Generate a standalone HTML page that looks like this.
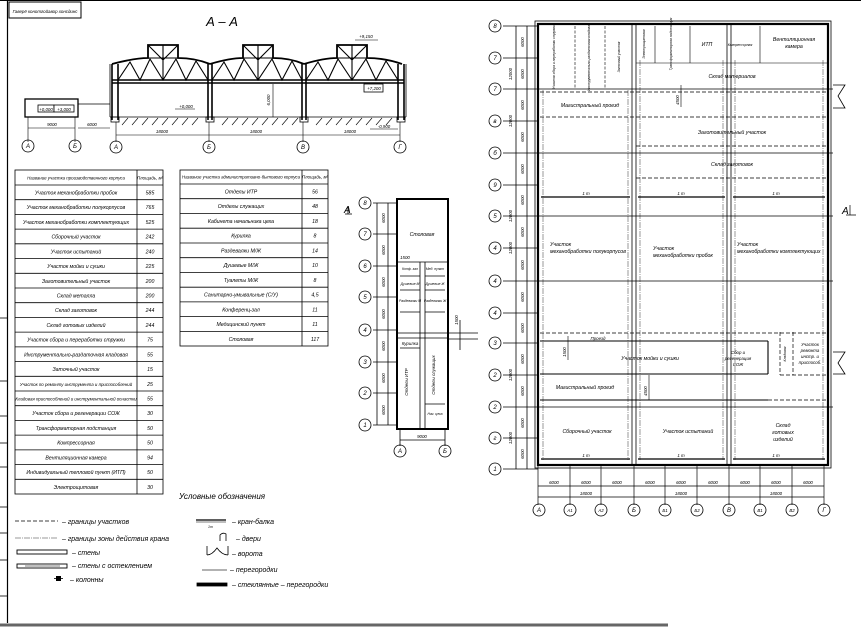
<!DOCTYPE html>
<html><head><meta charset="utf-8"><style>
html,body{margin:0;padding:0;background:#fff;}
svg{display:block;font-family:"Liberation Sans","DejaVu Sans",sans-serif;font-style:italic;}
.t{font-size:5.2px;text-anchor:middle;}
.s{font-size:4.4px;text-anchor:middle;}
.v{font-size:3.4px;text-anchor:middle;}
.c{font-size:6px;text-anchor:middle;}
</style></head><body>
<svg width="861" height="629" viewBox="0 0 861 629" xmlns="http://www.w3.org/2000/svg" stroke="#000" fill="none" stroke-width="0.8">
<!-- frame -->
<line x1="0" y1="0.5" x2="861" y2="0.5" stroke-width="1"/>
<line x1="7.5" y1="0" x2="7.5" y2="623" stroke-width="1.2"/>
<line x1="0" y1="625" x2="668" y2="625" stroke="#666" stroke-width="3"/>
<g stroke-width="0.8"><line x1="0" y1="318" x2="7" y2="318"/><line x1="0" y1="381" x2="7" y2="381"/><line x1="0" y1="416" x2="7" y2="416"/><line x1="0" y1="443" x2="7" y2="443"/><line x1="0" y1="467" x2="7" y2="467"/><line x1="0" y1="507" x2="7" y2="507"/><line x1="0" y1="533" x2="7" y2="533"/><line x1="0" y1="560" x2="7" y2="560"/><line x1="0" y1="596" x2="7" y2="596"/></g>
<rect x="9" y="2" width="72" height="16" stroke-width="1"/>
<text x="45" y="13" class="s" fill="#000" stroke="none">Гаверё конотгойавор хонсдинс</text>

<!-- SECTION A-A -->
<text x="222" y="26" font-size="13" text-anchor="middle" fill="#000" stroke="none">А – А</text>
<rect x="25" y="99" width="53" height="18" stroke-width="1.3"/>
<rect x="38" y="105" width="16" height="7" fill="#fff"/><text x="46" y="111" class="s" fill="#000" stroke="none">+0,000</text>
<rect x="54" y="105" width="20" height="7" fill="#fff"/><text x="64" y="111" class="s" fill="#000" stroke="none">+3,000</text>
<line x1="78" y1="104" x2="110" y2="104"/>
<g stroke-width="1.6">
<line x1="112" y1="64" x2="112" y2="120"/><line x1="118" y1="64" x2="118" y2="120"/>
<line x1="208" y1="64" x2="208" y2="120"/><line x1="212" y1="64" x2="212" y2="120"/>
<line x1="302" y1="64" x2="302" y2="120"/><line x1="306" y1="64" x2="306" y2="120"/>
<line x1="398" y1="64" x2="398" y2="120"/><line x1="404" y1="64" x2="404" y2="120"/>
</g>
<line x1="110" y1="64" x2="110" y2="117"/><line x1="406" y1="64" x2="406" y2="117"/>
<g stroke-width="1.4">
<line x1="112" y1="80" x2="404" y2="80"/><line x1="112" y1="83" x2="404" y2="83"/>
</g>
<g stroke-width="1.8">
<path d="M112 64 Q135 58 148 58 L148 45 L178 45 L178 58 Q195 58 210 64"/>
<path d="M210 64 Q230 58 243 58 L243 45 L273 45 L273 58 Q290 58 304 64"/>
<path d="M304 64 Q324 58 337 58 L337 45 L367 45 L367 58 Q385 58 402 64"/>
</g>
<g stroke-width="1.1">
<path d="M118 80 L130 62 L140 80 L150 59 L163 80 L176 59 L186 80 L196 61 L208 80"/>
<path d="M148 45 L163 60 L178 45 M163 45 L163 80 M148 58 L178 58"/>
<path d="M212 80 L224 62 L234 80 L244 59 L258 80 L272 59 L282 80 L292 61 L302 80"/>
<path d="M243 45 L258 60 L273 45 M258 45 L258 80 M243 58 L273 58"/>
<path d="M306 80 L318 62 L328 80 L338 59 L352 80 L366 59 L376 80 L386 61 L398 80"/>
<path d="M337 45 L352 60 L367 45 M352 45 L352 80 M337 58 L367 58"/>
</g>
<line x1="110" y1="117" x2="406" y2="117"/>
<g stroke-width="0.6">
<path d="M122 125 l6 -7 M132 125 l6 -7 M142 125 l6 -7 M152 125 l6 -7 M162 125 l6 -7 M172 125 l6 -7 M182 125 l6 -7 M192 125 l6 -7 M222 125 l6 -7 M232 125 l6 -7 M242 125 l6 -7 M252 125 l6 -7 M262 125 l6 -7 M272 125 l6 -7 M282 125 l6 -7 M292 125 l6 -7 M316 125 l6 -7 M326 125 l6 -7 M336 125 l6 -7 M346 125 l6 -7 M356 125 l6 -7 M366 125 l6 -7 M376 125 l6 -7 M386 125 l6 -7"/>
</g>
<rect x="111" y="117" width="8" height="5"/><rect x="206" y="117" width="8" height="5"/><rect x="300" y="117" width="8" height="5"/><rect x="397" y="117" width="8" height="5"/>
<line x1="273" y1="84" x2="273" y2="117" stroke-width="0.6"/>
<text x="270" y="100" class="s" fill="#000" stroke="none" transform="rotate(-90 270 100)">6,000</text>
<line x1="175" y1="109" x2="195" y2="109" stroke-width="0.6"/><text x="186" y="108" class="s" fill="#000" stroke="none">+0,000</text>
<rect x="364" y="84" width="19" height="8" fill="#fff"/><text x="374" y="90" class="s" fill="#000" stroke="none">+7,200</text>
<line x1="355" y1="40" x2="378" y2="40" stroke-width="0.6"/><text x="366" y="38" class="s" fill="#000" stroke="none">+9,150</text>
<line x1="370" y1="129" x2="398" y2="129" stroke-width="0.6"/><text x="384" y="128" class="s" fill="#000" stroke="none">-0,900</text>
<g stroke-width="0.6">
<line x1="28" y1="117" x2="28" y2="142"/><line x1="75" y1="117" x2="75" y2="142"/>
<line x1="28" y1="128" x2="75" y2="128"/><line x1="78" y1="128" x2="110" y2="128"/>
<line x1="116" y1="122" x2="116" y2="142"/><line x1="209" y1="122" x2="209" y2="142"/><line x1="303" y1="122" x2="303" y2="142"/><line x1="400" y1="122" x2="400" y2="142"/>
<line x1="116" y1="135" x2="400" y2="135"/>
</g>
<g fill="#000" stroke="none">
<text x="52" y="126" class="s">9000</text><text x="92" y="126" class="s">6000</text>
<text x="162" y="133" class="s">18000</text><text x="256" y="133" class="s">18000</text><text x="350" y="133" class="s">18000</text>
</g>
<g stroke-width="0.8">
<circle cx="28" cy="146" r="6"/><circle cx="75" cy="146" r="6"/><circle cx="116" cy="147" r="6"/><circle cx="209" cy="147" r="6"/><circle cx="303" cy="147" r="6"/><circle cx="400" cy="147" r="6"/>
</g>
<g fill="#000" stroke="none">
<text x="28" y="148" class="c">А</text><text x="75" y="148" class="c">Б</text><text x="116" y="149" class="c">А</text><text x="209" y="149" class="c">Б</text><text x="303" y="149" class="c">В</text><text x="400" y="149" class="c">Г</text>
</g>

<!-- LEFT TABLE -->
<g stroke-width="0.8">
<rect x="15" y="170" width="148" height="324"/>
<line x1="137" y1="170" x2="137" y2="494"/>
<line x1="15" y1="185" x2="163" y2="185"/>
<line x1="15" y1="199.7" x2="163" y2="199.7"/><line x1="15" y1="214.4" x2="163" y2="214.4"/><line x1="15" y1="229.1" x2="163" y2="229.1"/><line x1="15" y1="243.8" x2="163" y2="243.8"/><line x1="15" y1="258.6" x2="163" y2="258.6"/><line x1="15" y1="273.3" x2="163" y2="273.3"/><line x1="15" y1="288" x2="163" y2="288"/><line x1="15" y1="302.7" x2="163" y2="302.7"/><line x1="15" y1="317.4" x2="163" y2="317.4"/><line x1="15" y1="332.1" x2="163" y2="332.1"/><line x1="15" y1="346.9" x2="163" y2="346.9"/><line x1="15" y1="361.6" x2="163" y2="361.6"/><line x1="15" y1="376.3" x2="163" y2="376.3"/><line x1="15" y1="391" x2="163" y2="391"/><line x1="15" y1="405.7" x2="163" y2="405.7"/><line x1="15" y1="420.4" x2="163" y2="420.4"/><line x1="15" y1="435.1" x2="163" y2="435.1"/><line x1="15" y1="449.9" x2="163" y2="449.9"/><line x1="15" y1="464.6" x2="163" y2="464.6"/><line x1="15" y1="479.3" x2="163" y2="479.3"/>
</g>
<g fill="#000" stroke="none">
<text x="76" y="179.5" class="s" font-size="4">Название участка производственного корпуса</text><text x="150" y="179.5" class="s">Площадь, м²</text>
<text x="76" y="194.5" class="t">Участок механобработки пробок</text><text x="150" y="194.5" class="t">585</text>
<text x="76" y="209.2" class="t">Участок механобработки полукорпусов</text><text x="150" y="209.2" class="t">765</text>
<text x="76" y="223.9" class="t">Участок механобработки комплектующих</text><text x="150" y="223.9" class="t">525</text>
<text x="76" y="238.6" class="t">Сборочный участок</text><text x="150" y="238.6" class="t">242</text>
<text x="76" y="253.3" class="t">Участок испытаний</text><text x="150" y="253.3" class="t">240</text>
<text x="76" y="268.1" class="t">Участок мойки и сушки</text><text x="150" y="268.1" class="t">225</text>
<text x="76" y="282.8" class="t">Заготовительный участок</text><text x="150" y="282.8" class="t">200</text>
<text x="76" y="297.5" class="t">Склад металла</text><text x="150" y="297.5" class="t">200</text>
<text x="76" y="312.2" class="t">Склад заготовок</text><text x="150" y="312.2" class="t">244</text>
<text x="76" y="326.9" class="t">Склад готовых изделий</text><text x="150" y="326.9" class="t">244</text>
<text x="76" y="341.6" class="t">Участок сбора и переработки стружки</text><text x="150" y="341.6" class="t">75</text>
<text x="76" y="356.4" class="t">Инструментально-раздаточная кладовая</text><text x="150" y="356.4" class="t">55</text>
<text x="76" y="371.1" class="t">Заточный участок</text><text x="150" y="371.1" class="t">15</text>
<text x="76" y="385.8" class="s">Участок по ремонту инструмента и приспособлений</text><text x="150" y="385.8" class="t">25</text>
<text x="76" y="400.5" class="s">Кладовая приспособлений и инструментальной оснастки</text><text x="150" y="400.5" class="t">55</text>
<text x="76" y="415.2" class="t">Участок сбора и регенерации СОЖ</text><text x="150" y="415.2" class="t">30</text>
<text x="76" y="429.9" class="t">Трансформаторная подстанция</text><text x="150" y="429.9" class="t">50</text>
<text x="76" y="444.6" class="t">Компрессорная</text><text x="150" y="444.6" class="t">50</text>
<text x="76" y="459.4" class="t">Вентиляционная камера</text><text x="150" y="459.4" class="t">94</text>
<text x="76" y="474.1" class="t">Индивидуальный тепловой пункт (ИТП)</text><text x="150" y="474.1" class="t">50</text>
<text x="76" y="488.8" class="t">Электрощитовая</text><text x="150" y="488.8" class="t">30</text>
</g>

<!-- RIGHT TABLE -->
<g stroke-width="0.8">
<rect x="180" y="170" width="148" height="176"/>
<line x1="302" y1="170" x2="302" y2="346"/>
<line x1="180" y1="184" x2="328" y2="184"/>
<line x1="180" y1="198.7" x2="328" y2="198.7"/><line x1="180" y1="213.5" x2="328" y2="213.5"/><line x1="180" y1="228.2" x2="328" y2="228.2"/><line x1="180" y1="243" x2="328" y2="243"/><line x1="180" y1="257.7" x2="328" y2="257.7"/><line x1="180" y1="272.4" x2="328" y2="272.4"/><line x1="180" y1="287.2" x2="328" y2="287.2"/><line x1="180" y1="301.9" x2="328" y2="301.9"/><line x1="180" y1="316.6" x2="328" y2="316.6"/><line x1="180" y1="331.4" x2="328" y2="331.4"/>
</g>
<g fill="#000" stroke="none">
<text x="241" y="178.5" class="s" font-size="3.8">Название участка административно-бытового корпуса</text><text x="315" y="178.5" class="s">Площадь, м²</text>
<text x="241" y="193.5" class="t">Отделы ИТР</text><text x="315" y="193.5" class="t">56</text>
<text x="241" y="208" class="t">Отделы служащих</text><text x="315" y="208" class="t">48</text>
<text x="241" y="223" class="t">Кабинета начальника цеха</text><text x="315" y="223" class="t">18</text>
<text x="241" y="237.5" class="t">Курилка</text><text x="315" y="237.5" class="t">8</text>
<text x="241" y="252.5" class="t">Раздевалки М/Ж</text><text x="315" y="252.5" class="t">14</text>
<text x="241" y="267" class="t">Душевые М/Ж</text><text x="315" y="267" class="t">10</text>
<text x="241" y="282" class="t">Туалеты М/Ж</text><text x="315" y="282" class="t">8</text>
<text x="241" y="296.5" class="t">Санитарно-умывальные (С/У)</text><text x="315" y="296.5" class="t">4,5</text>
<text x="241" y="311.5" class="t">Конференц-зал</text><text x="315" y="311.5" class="t">11</text>
<text x="241" y="326" class="t">Медицинский пункт</text><text x="315" y="326" class="t">11</text>
<text x="241" y="341" class="t">Столовая</text><text x="315" y="341" class="t">117</text>
</g>

<!-- LEGEND -->
<g fill="#000" stroke="none">
<text x="222" y="499" font-size="8" text-anchor="middle">Условные обозначения</text>
<text x="62" y="524" font-size="7">– границы участков</text>
<text x="62" y="541" font-size="7">– границы зоны действия крана</text>
<text x="72" y="555" font-size="7">– стены</text>
<text x="72" y="568" font-size="7">– стены с остеклением</text>
<text x="70" y="582" font-size="7">– колонны</text>
<text x="232" y="524" font-size="7">– кран-балка</text>
<text x="236" y="541" font-size="7">– двери</text>
<text x="232" y="556" font-size="7">– ворота</text>
<text x="230" y="572" font-size="7">– перегородки</text>
<text x="232" y="587" font-size="7">– стеклянные – перегородки</text>
<text x="208" y="528" font-size="3.5">1т</text>
</g>
<line x1="15" y1="521" x2="58" y2="521" stroke-dasharray="4 2"/>
<line x1="15" y1="538" x2="58" y2="538" stroke="#777" stroke-dasharray="6 1 1 1"/>
<rect x="17" y="550" width="50" height="4" stroke-width="0.9"/>
<rect x="17" y="564" width="50" height="4" stroke-width="0.9"/><line x1="25" y1="566" x2="60" y2="566" stroke-width="0.5"/>
<rect x="56" y="576" width="5" height="5" fill="#000" stroke="none"/><line x1="54" y1="578.5" x2="63" y2="578.5"/>
<line x1="196" y1="520" x2="226" y2="520" stroke-width="1.3"/><line x1="196" y1="522" x2="226" y2="522" stroke-width="0.6"/>
<path d="M220 541 L220 535 Q223 532 226 534 L226 541"/>
<path d="M207 555 L207 546 M228 555 L228 546 M207 555 Q212 555 217 548 Q222 555 228 555"/>
<line x1="202" y1="570" x2="227" y2="570" stroke="#666" stroke-width="1"/>
<rect x="197" y="583" width="30" height="3" fill="#000"/>

<!-- MIDDLE PLAN -->
<g stroke-width="2"><rect x="397" y="199" width="51" height="230"/></g>
<g stroke-width="0.8">
<line x1="373" y1="203" x2="397" y2="203"/><line x1="373" y1="234" x2="397" y2="234"/><line x1="373" y1="266" x2="397" y2="266"/><line x1="373" y1="297" x2="397" y2="297"/><line x1="373" y1="330" x2="397" y2="330"/><line x1="373" y1="362" x2="397" y2="362"/><line x1="373" y1="393" x2="397" y2="393"/><line x1="373" y1="425" x2="397" y2="425"/>
<line x1="377" y1="203" x2="377" y2="425"/><line x1="388" y1="203" x2="388" y2="425"/>
<circle cx="365" cy="203" r="6"/><circle cx="365" cy="234" r="6"/><circle cx="365" cy="266" r="6"/><circle cx="365" cy="297" r="6"/><circle cx="365" cy="330" r="6"/><circle cx="365" cy="362" r="6"/><circle cx="365" cy="393" r="6"/><circle cx="365" cy="425" r="6"/>
<line x1="400" y1="429" x2="400" y2="446"/><line x1="445" y1="429" x2="445" y2="446"/><line x1="400" y1="440" x2="445" y2="440"/>
<circle cx="400" cy="451" r="6"/><circle cx="445" cy="451" r="6"/>
<line x1="397" y1="262" x2="448" y2="262"/><line x1="420" y1="262" x2="420" y2="429"/><line x1="425" y1="262" x2="425" y2="429"/>
<line x1="400" y1="276" x2="420" y2="276"/><line x1="425" y1="276" x2="445" y2="276"/>
<line x1="400" y1="290" x2="420" y2="290"/><line x1="425" y1="290" x2="445" y2="290"/>
<line x1="400" y1="312" x2="420" y2="312"/><line x1="425" y1="312" x2="445" y2="312"/>
<line x1="397" y1="333" x2="448" y2="333"/><line x1="397" y1="338" x2="448" y2="338"/>
<line x1="400" y1="348" x2="420" y2="348"/><line x1="425" y1="404" x2="445" y2="404"/>
<line x1="448" y1="333" x2="478" y2="333"/><line x1="448" y1="339" x2="478" y2="339"/><line x1="460" y1="320" x2="460" y2="350"/>
<line x1="345" y1="214" x2="352" y2="214"/><line x1="348" y1="206" x2="348" y2="214"/>
</g>
<g fill="#000" stroke="none">
<text x="365" y="205" class="c">8</text><text x="365" y="236" class="c">7</text><text x="365" y="268" class="c">6</text><text x="365" y="299" class="c">5</text><text x="365" y="332" class="c">4</text><text x="365" y="364" class="c">3</text><text x="365" y="395" class="c">2</text><text x="365" y="427" class="c">1</text>
<text x="400" y="453" class="c">А</text><text x="445" y="453" class="c">Б</text>
<text x="422" y="438" class="s">9000</text>
<text x="344" y="213" font-size="10">А</text>
<text x="422" y="236" class="t">Столовая</text>
<text x="410" y="270" class="v">Конф. зал</text><text x="435" y="270" class="v">Мед. пункт</text>
<text x="410" y="285" class="v">Душевые М</text><text x="435" y="285" class="v">Душевые Ж</text>
<text x="410" y="302" class="v">Раздевалки М</text><text x="435" y="302" class="v">Раздевалки Ж</text>
<text x="410" y="345" class="s">Курилка</text>
<text x="435" y="415" class="v">Нач. цеха</text>
<text x="408" y="382" class="s" transform="rotate(-90 408 382)">Отделы ИТР</text>
<text x="435" y="375" class="s" transform="rotate(-90 435 375)">Отделы служащих</text>
<text x="385" y="218" class="s" transform="rotate(-90 385 218)">6000</text>
<text x="385" y="250" class="s" transform="rotate(-90 385 250)">6000</text>
<text x="385" y="282" class="s" transform="rotate(-90 385 282)">6000</text>
<text x="385" y="314" class="s" transform="rotate(-90 385 314)">6000</text>
<text x="385" y="346" class="s" transform="rotate(-90 385 346)">6000</text>
<text x="385" y="378" class="s" transform="rotate(-90 385 378)">6000</text>
<text x="385" y="410" class="s" transform="rotate(-90 385 410)">6000</text>
<text x="405" y="259" class="s">1500</text>
<text x="458" y="320" class="s" transform="rotate(-90 458 320)">1500</text>
</g>

<!-- MAIN PLAN -->
<g stroke-width="2.2"><rect x="538" y="24" width="290" height="441"/></g>
<rect x="535" y="21" width="296" height="447" stroke-width="0.8"/>
<g stroke-width="0.8">
<line x1="632" y1="24" x2="632" y2="465"/><line x1="636" y1="24" x2="636" y2="465"/>
<line x1="727" y1="24" x2="727" y2="465"/><line x1="731" y1="24" x2="731" y2="465"/>
</g>
<g stroke="#555" stroke-width="0.6" stroke-dasharray="6 1 1 1">
<line x1="543" y1="90" x2="543" y2="460"/><line x1="628" y1="90" x2="628" y2="460"/><line x1="640" y1="60" x2="640" y2="460"/><line x1="723" y1="60" x2="723" y2="460"/><line x1="735" y1="60" x2="735" y2="460"/><line x1="823" y1="60" x2="823" y2="460"/>
</g>
<g stroke-width="0.8">
<line x1="503" y1="26" x2="538" y2="26"/><line x1="503" y1="58" x2="538" y2="58"/><line x1="503" y1="89" x2="833" y2="89"/><line x1="503" y1="121" x2="538" y2="121"/><line x1="503" y1="153" x2="833" y2="153"/><line x1="503" y1="185" x2="538" y2="185"/><line x1="503" y1="216" x2="833" y2="216"/><line x1="503" y1="248" x2="538" y2="248"/><line x1="503" y1="281" x2="833" y2="281"/><line x1="503" y1="313" x2="538" y2="313"/><line x1="503" y1="343" x2="538" y2="343"/><line x1="503" y1="375" x2="538" y2="375"/><line x1="503" y1="407" x2="833" y2="407"/><line x1="503" y1="438" x2="538" y2="438"/><line x1="503" y1="469" x2="538" y2="469"/>
<line x1="516" y1="26" x2="516" y2="469"/><line x1="527" y1="26" x2="527" y2="469"/>
</g>
<g stroke-width="0.8">
<circle cx="495" cy="26" r="6"/><circle cx="495" cy="58" r="6"/><circle cx="495" cy="89" r="6"/><circle cx="495" cy="121" r="6"/><circle cx="495" cy="153" r="6"/><circle cx="495" cy="185" r="6"/><circle cx="495" cy="216" r="6"/><circle cx="495" cy="248" r="6"/><circle cx="495" cy="281" r="6"/><circle cx="495" cy="313" r="6"/><circle cx="495" cy="343" r="6"/><circle cx="495" cy="375" r="6"/><circle cx="495" cy="407" r="6"/><circle cx="495" cy="438" r="6"/><circle cx="495" cy="469" r="6"/>
</g>
<g fill="#000" stroke="none">
<text x="495" y="28" class="c">8</text><text x="495" y="60" class="c">7</text><text x="495" y="91" class="c">7</text><text x="495" y="123" class="c">в</text><text x="495" y="155" class="c">б</text><text x="495" y="187" class="c">9</text><text x="495" y="218" class="c">5</text><text x="495" y="250" class="c">4</text><text x="495" y="283" class="c">4</text><text x="495" y="315" class="c">4</text><text x="495" y="345" class="c">3</text><text x="495" y="377" class="c">2</text><text x="495" y="409" class="c">2</text><text x="495" y="440" class="c">г</text><text x="495" y="471" class="c">1</text>
</g>
<g fill="#000" stroke="none">
<text x="524" y="42" class="s" transform="rotate(-90 524 42)">6000</text><text x="524" y="74" class="s" transform="rotate(-90 524 74)">6000</text><text x="524" y="105" class="s" transform="rotate(-90 524 105)">6000</text><text x="524" y="137" class="s" transform="rotate(-90 524 137)">6000</text><text x="524" y="169" class="s" transform="rotate(-90 524 169)">6000</text><text x="524" y="200" class="s" transform="rotate(-90 524 200)">6000</text><text x="524" y="232" class="s" transform="rotate(-90 524 232)">6000</text><text x="524" y="265" class="s" transform="rotate(-90 524 265)">6000</text><text x="524" y="297" class="s" transform="rotate(-90 524 297)">6000</text><text x="524" y="328" class="s" transform="rotate(-90 524 328)">6000</text><text x="524" y="359" class="s" transform="rotate(-90 524 359)">6000</text><text x="524" y="391" class="s" transform="rotate(-90 524 391)">6000</text><text x="524" y="423" class="s" transform="rotate(-90 524 423)">6000</text><text x="524" y="454" class="s" transform="rotate(-90 524 454)">6000</text>
<text x="512" y="74" class="s" transform="rotate(-90 512 74)">12000</text><text x="512" y="121" class="s" transform="rotate(-90 512 121)">12000</text><text x="512" y="216" class="s" transform="rotate(-90 512 216)">12000</text><text x="512" y="248" class="s" transform="rotate(-90 512 248)">12000</text><text x="512" y="375" class="s" transform="rotate(-90 512 375)">12000</text><text x="512" y="438" class="s" transform="rotate(-90 512 438)">12000</text>
</g>
<g stroke-width="0.6">
<line x1="575" y1="26" x2="575" y2="89" stroke-dasharray="3 1.5"/><line x1="605" y1="26" x2="605" y2="89" stroke-dasharray="3 1.5"/>
<line x1="636" y1="63" x2="828" y2="63"/>
<line x1="655" y1="26" x2="655" y2="63"/><line x1="690" y1="26" x2="690" y2="63"/><line x1="760" y1="26" x2="760" y2="63"/>
</g>
<g stroke-width="0.7" stroke-dasharray="4 2">
<line x1="540" y1="92" x2="826" y2="92"/><line x1="540" y1="117" x2="826" y2="117"/>
<line x1="636" y1="146" x2="826" y2="146"/><line x1="636" y1="178" x2="826" y2="178"/>
<line x1="540" y1="333" x2="826" y2="333"/>
<line x1="780" y1="332" x2="780" y2="375"/><line x1="793" y1="332" x2="793" y2="375"/><line x1="780" y1="375" x2="826" y2="375"/>
<line x1="768" y1="400" x2="826" y2="400"/>
</g>
<g stroke-width="1.1">
<line x1="540" y1="341" x2="768" y2="341"/><line x1="768" y1="341" x2="768" y2="374"/><line x1="540" y1="374" x2="768" y2="374"/>
<line x1="540" y1="400" x2="768" y2="400"/>
</g>
<line x1="681" y1="85" x2="681" y2="107" stroke-width="0.6"/>
<line x1="649" y1="375" x2="649" y2="400" stroke-width="0.6"/>
<line x1="568" y1="336" x2="568" y2="360" stroke-width="0.6"/>
<g stroke-width="1.3">
<line x1="541" y1="197" x2="630" y2="197"/><line x1="638" y1="197" x2="725" y2="197"/><line x1="733" y1="197" x2="825" y2="197"/>
<line x1="541" y1="459" x2="630" y2="459"/><line x1="638" y1="459" x2="725" y2="459"/><line x1="733" y1="459" x2="825" y2="459"/>
</g>
<path d="M833 85 L845 85 L838 96 L845 108 L833 108" stroke-width="0.8"/>
<path d="M833 352 L845 352 L838 363 L845 374 L833 374" stroke-width="0.8"/>
<path d="M850 205 L850 215 M846 215 L856 215" stroke-width="0.7"/>
<text x="842" y="214" font-size="10" fill="#000" stroke="none">А</text>
<g stroke-width="0.7">
<line x1="538" y1="465" x2="538" y2="505"/><line x1="570" y1="465" x2="570" y2="505"/><line x1="601" y1="465" x2="601" y2="505"/><line x1="634" y1="465" x2="634" y2="505"/><line x1="665" y1="465" x2="665" y2="505"/><line x1="697" y1="465" x2="697" y2="505"/><line x1="729" y1="465" x2="729" y2="505"/><line x1="760" y1="465" x2="760" y2="505"/><line x1="792" y1="465" x2="792" y2="505"/><line x1="824" y1="465" x2="824" y2="505"/>
<line x1="538" y1="486" x2="824" y2="486"/><line x1="538" y1="497" x2="824" y2="497"/>
</g>
<g stroke-width="0.8">
<circle cx="539" cy="510" r="6"/><circle cx="570" cy="510" r="6"/><circle cx="601" cy="510" r="6"/><circle cx="634" cy="510" r="6"/><circle cx="665" cy="510" r="6"/><circle cx="697" cy="510" r="6"/><circle cx="729" cy="510" r="6"/><circle cx="760" cy="510" r="6"/><circle cx="792" cy="510" r="6"/><circle cx="824" cy="510" r="6"/>
</g>
<g fill="#000" stroke="none">
<text x="539" y="512" class="c">А</text><text x="570" y="512" class="s">А1</text><text x="601" y="512" class="s">А2</text><text x="634" y="512" class="c">Б</text><text x="665" y="512" class="s">Б1</text><text x="697" y="512" class="s">Б2</text><text x="729" y="512" class="c">В</text><text x="760" y="512" class="s">В1</text><text x="792" y="512" class="s">В2</text><text x="824" y="512" class="c">Г</text>
<text x="554" y="484" class="s">6000</text><text x="586" y="484" class="s">6000</text><text x="617" y="484" class="s">6000</text><text x="650" y="484" class="s">6000</text><text x="681" y="484" class="s">6000</text><text x="713" y="484" class="s">6000</text><text x="745" y="484" class="s">6000</text><text x="776" y="484" class="s">6000</text><text x="808" y="484" class="s">6000</text>
<text x="586" y="495" class="s">18000</text><text x="681" y="495" class="s">18000</text><text x="776" y="495" class="s">18000</text>
<text x="555" y="57" class="v" transform="rotate(-90 555 57)">Участок сбора и переработки стружки</text>
<text x="590" y="57" class="v" transform="rotate(-90 590 57)">Инструментально-раздаточная кладовая</text>
<text x="620" y="57" class="v" transform="rotate(-90 620 57)">Заточный участок</text>
<text x="645" y="44" class="v" transform="rotate(-90 645 44)">Электрощитовая</text>
<text x="672" y="44" class="v" transform="rotate(-90 672 44)">Трансформаторная подстанция</text>
<text x="707" y="46" class="t">ИТП</text><text x="740" y="46" class="v">Компрессорная</text>
<text x="794" y="41" class="t">Вентиляционная</text><text x="794" y="48" class="t">камера</text>
<text x="732" y="78" class="t">Склад материалов</text>
<text x="590" y="107" class="t">Магистральный проезд</text>
<text x="732" y="134" class="t">Заготовительный участок</text>
<text x="732" y="166" class="t">Склад заготовок</text>
<text x="586" y="195" class="s">1 т</text><text x="681" y="195" class="s">1 т</text><text x="776" y="195" class="s">1 т</text>
<text x="550" y="246" font-size="5.2">Участок</text><text x="550" y="253" font-size="5.2">механобработки полукорпусов</text>
<text x="653" y="250" font-size="5.2">Участок</text><text x="653" y="257" font-size="5.2">механобработки пробок</text>
<text x="737" y="246" font-size="5.2">Участок</text><text x="737" y="253" font-size="5.2">механобработки комплектующих</text>
<text x="598" y="340" class="s">Проезд</text>
<text x="650" y="360" class="t">Участок мойки и сушки</text>
<text x="738" y="354" class="s">Сбор и</text><text x="738" y="360" class="s">регенерация</text><text x="738" y="366" class="s">СОЖ</text>
<text x="786" y="354" class="v" transform="rotate(-90 786 354)">Кладовая</text>
<text x="810" y="346" class="s">Участок</text><text x="810" y="352" class="s">ремонта</text><text x="810" y="358" class="s">инстр. и</text><text x="810" y="364" class="s">приспособ.</text>
<text x="585" y="389" class="t">Магистральный проезд</text>
<text x="587" y="433" class="t">Сборочный участок</text>
<text x="688" y="433" class="t">Участок испытаний</text>
<text x="783" y="427" class="t">Склад</text><text x="783" y="434" class="t">готовых</text><text x="783" y="441" class="t">изделий</text>
<text x="586" y="457" class="s">1 т</text><text x="681" y="457" class="s">1 т</text><text x="776" y="457" class="s">1 т</text>
<text x="679" y="100" class="s" transform="rotate(-90 679 100)">4500</text>
<text x="647" y="391" class="s" transform="rotate(-90 647 391)">4500</text>
<text x="566" y="352" class="s" transform="rotate(-90 566 352)">1500</text>
</g>
</svg>
</body></html>
